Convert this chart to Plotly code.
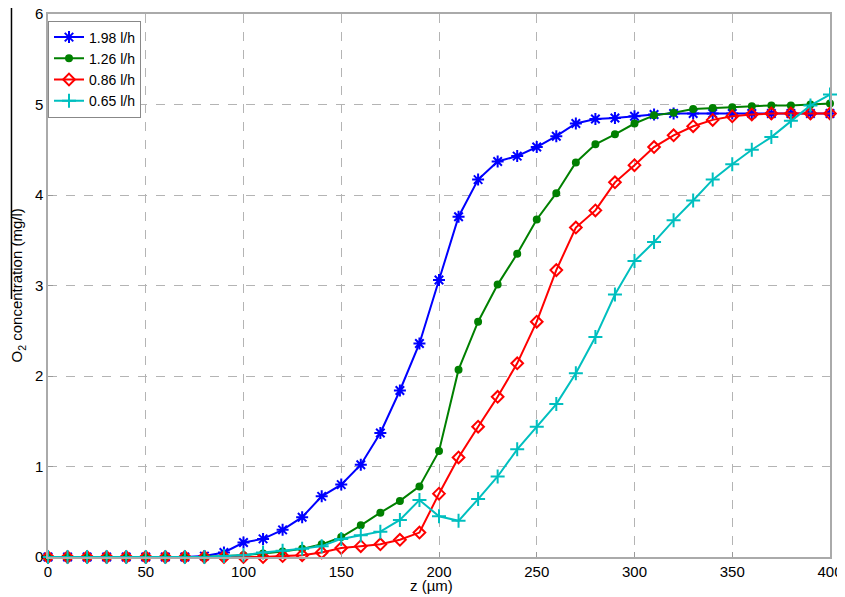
import plotly.graph_objects as go

# depth positions (µm), every 10 µm
z = list(range(0, 401, 10))

o2_198 = [0, 0, 0, 0, 0, 0, 0, 0, 0.01, 0.05,
          0.16, 0.2, 0.3, 0.44, 0.67, 0.8, 1.02, 1.37, 1.84, 2.36,
          3.06, 3.76, 4.17, 4.37, 4.43, 4.53, 4.65, 4.79, 4.84, 4.85,
          4.87, 4.89, 4.9, 4.9, 4.9, 4.9, 4.9, 4.9, 4.9, 4.9, 4.9]
o2_126 = [0, 0, 0, 0, 0, 0, 0, 0, 0, 0.01,
          0.02, 0.04, 0.06, 0.09, 0.14, 0.22, 0.35, 0.49, 0.62, 0.78,
          1.17, 2.07, 2.6, 3.01, 3.35, 3.73, 4.02, 4.36, 4.56, 4.67,
          4.79, 4.88, 4.91, 4.95, 4.96, 4.97, 4.98, 4.99, 4.99, 5.0, 5.01]
o2_086 = [0, 0, 0, 0, 0, 0, 0, 0, 0, 0,
          0, 0, 0.01, 0.02, 0.05, 0.1, 0.12, 0.14, 0.19, 0.27,
          0.7, 1.1, 1.44, 1.77, 2.14, 2.6, 3.17, 3.64, 3.83, 4.14,
          4.33, 4.53, 4.66, 4.76, 4.83, 4.87, 4.89, 4.9, 4.9, 4.9, 4.9]
o2_065 = [0, 0, 0, 0, 0, 0, 0, 0, 0, 0.01,
          0.02, 0.05, 0.07, 0.09, 0.12, 0.2, 0.24, 0.28, 0.41, 0.63,
          0.45, 0.4, 0.64, 0.89, 1.19, 1.44, 1.69, 2.03, 2.43, 2.9,
          3.27, 3.48, 3.72, 3.94, 4.17, 4.34, 4.5, 4.64, 4.82, 4.99, 5.11]

x_ticks = [0, 50, 100, 150, 200, 250, 300, 350, 400]
y_ticks = [0, 1, 2, 3, 4, 5, 6]

series = [
    ("1.98 l/h", o2_198, "rgb(0,0,255)", "asterisk-open", 10),
    ("1.26 l/h", o2_126, "rgb(0,128,0)", "circle", 6),
    ("0.86 l/h", o2_086, "rgb(255,0,0)", "diamond-open", 9),
    ("0.65 l/h", o2_065, "rgb(0,191,191)", "cross-thin-open", 10),
]

fig = go.Figure()
for name, vals, color, symbol, size in series:
    fig.add_trace(go.Scatter(
        x=z, y=vals, name=name, mode="lines+markers",
        line=dict(color=color, width=2),
        marker=dict(symbol=symbol, size=size, color=color,
                    line=dict(color=color, width=2)),
        cliponaxis=False,
    ))

# page body has an 8px margin, so the figure is sized to fit inside it
fig.update_layout(
    width=837, height=589,
    margin=dict(l=40, r=15, t=6, b=40),
    paper_bgcolor="white", plot_bgcolor="white",
    font=dict(family="Liberation Sans, Arial, sans-serif", size=15, color="black"),
    showlegend=True,
    legend=dict(x=0.0, y=0.988, xanchor="left", yanchor="top",
                bgcolor="white", bordercolor="#888", borderwidth=1,
                font=dict(size=14), tracegroupgap=0, itemwidth=30),
    annotations=[
        dict(text="z (µm)", xref="paper", yref="paper", x=0.491, y=-0.053,
             showarrow=False, xanchor="center", yanchor="middle",
             font=dict(size=15)),
        dict(text="O<sub>2</sub> concentration (mg/l)", xref="paper",
             yref="paper", x=-0.0384, y=0.5, textangle=-90, showarrow=False,
             xanchor="center", yanchor="middle", font=dict(size=15)),
    ],
    # stray black rule at the left edge of the source figure
    shapes=[dict(type="line", xref="paper", yref="paper",
                 x0=-0.0467, x1=-0.0467, y0=0.475, y1=1.03,
                 line=dict(color="black", width=1.5))],
)

fig.update_xaxes(
    range=[0, 400], tickvals=x_ticks, ticks="inside", ticklen=5,
    tickcolor="#999", showgrid=True, gridcolor="#b4b4b4", griddash="dash",
    gridwidth=1, zeroline=False, showline=True, linecolor="#aaa",
    linewidth=1.5, mirror=True, automargin=False, tickfont=dict(size=15),
    ticklabeloverflow="allow",
)
fig.update_yaxes(
    range=[0, 6], tickvals=y_ticks, ticks="inside", ticklen=5,
    tickcolor="#999", showgrid=True, gridcolor="#b4b4b4", griddash="dash",
    gridwidth=1, zeroline=False, showline=True, linecolor="#aaa",
    linewidth=1.5, mirror=True, automargin=False, tickfont=dict(size=15),
    ticklabeloverflow="allow",
)

fig.write_html("out.html")
